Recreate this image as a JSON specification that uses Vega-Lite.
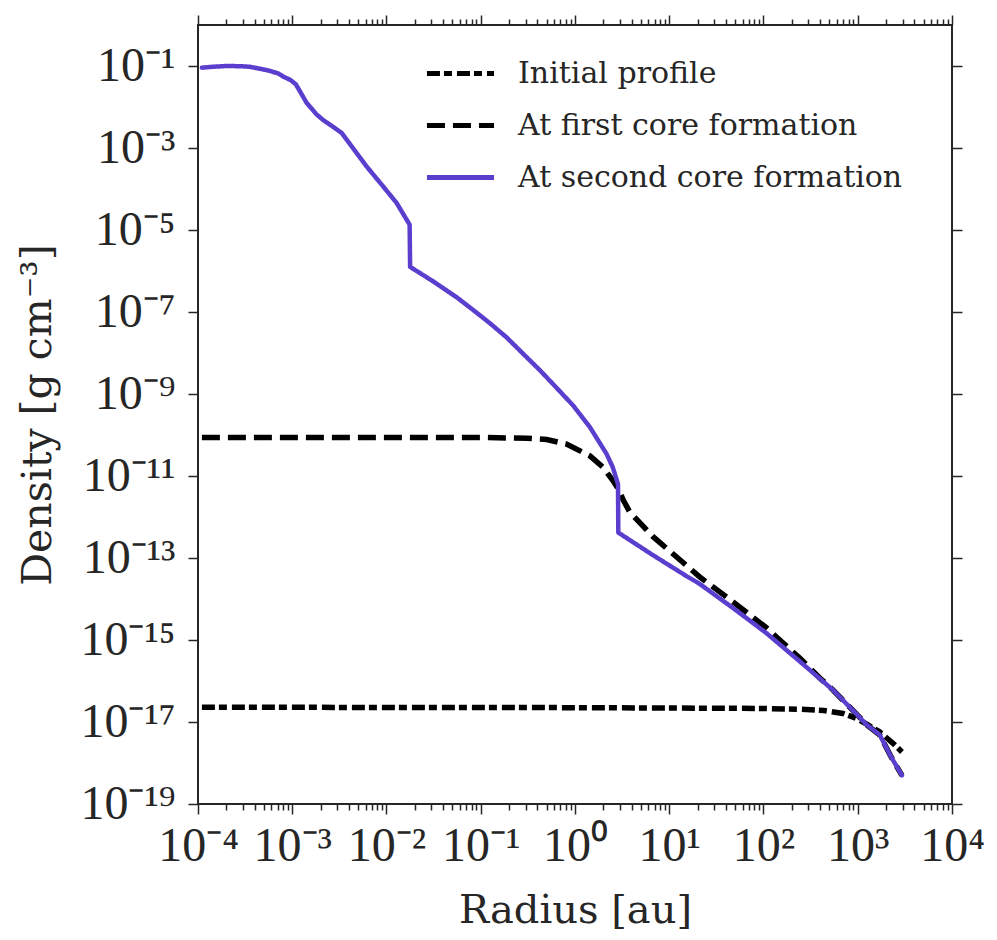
{
  "$schema": "https://vega.github.io/schema/vega-lite/v6.json",
  "width": 754,
  "height": 779,
  "autosize": {"type": "none"},
  "padding": {"left": 198, "top": 25, "right": 45, "bottom": 136},
  "background": "white",
  "config": {
    "view": {"stroke": "#262626", "strokeWidth": 2},
    "axis": {"domain": false, "grid": false, "tickColor": "#262626", "tickWidth": 1.5, "labelColor": "#262626", "titleColor": "#262626", "titleFontWeight": "normal", "labelOverlap": false, "labelFlush": false}
  },
  "data": {"values": [
    {"s": "Initial profile", "r": 1.1e-4, "d": 2.29e-17, "i": 0},
    {"s": "Initial profile", "r": 1, "d": 2.24e-17, "i": 1},
    {"s": "Initial profile", "r": 100, "d": 2.14e-17, "i": 2},
    {"s": "Initial profile", "r": 251, "d": 2.04e-17, "i": 3},
    {"s": "Initial profile", "r": 437, "d": 1.91e-17, "i": 4},
    {"s": "Initial profile", "r": 697, "d": 1.62e-17, "i": 5},
    {"s": "Initial profile", "r": 966, "d": 1.23e-17, "i": 6},
    {"s": "Initial profile", "r": 1259, "d": 8.71e-18, "i": 7},
    {"s": "Initial profile", "r": 1706, "d": 5.75e-18, "i": 8},
    {"s": "Initial profile", "r": 2366, "d": 3.02e-18, "i": 9},
    {"s": "Initial profile", "r": 2944, "d": 1.86e-18, "i": 10},

    {"s": "At first core formation", "r": 1.1e-4, "d": 8.71e-11, "i": 0},
    {"s": "At first core formation", "r": 0.1, "d": 8.71e-11, "i": 1},
    {"s": "At first core formation", "r": 0.316, "d": 8.32e-11, "i": 2},
    {"s": "At first core formation", "r": 0.501, "d": 7.76e-11, "i": 3},
    {"s": "At first core formation", "r": 0.813, "d": 6.03e-11, "i": 4},
    {"s": "At first core formation", "r": 1.44, "d": 3.09e-11, "i": 5},
    {"s": "At first core formation", "r": 1.99, "d": 1.62e-11, "i": 6},
    {"s": "At first core formation", "r": 2.54, "d": 7.59e-12, "i": 7},
    {"s": "At first core formation", "r": 2.95, "d": 4.37e-12, "i": 8},
    {"s": "At first core formation", "r": 3.24, "d": 2.63e-12, "i": 9},
    {"s": "At first core formation", "r": 3.81, "d": 1.32e-12, "i": 10},
    {"s": "At first core formation", "r": 5.01, "d": 6.76e-13, "i": 11},
    {"s": "At first core formation", "r": 6.73, "d": 3.31e-13, "i": 12},
    {"s": "At first core formation", "r": 10, "d": 1.51e-13, "i": 13},
    {"s": "At first core formation", "r": 15.2, "d": 6.61e-14, "i": 14},
    {"s": "At first core formation", "r": 21.0, "d": 3.47e-14, "i": 15},
    {"s": "At first core formation", "r": 47.5, "d": 8.51e-15, "i": 16},
    {"s": "At first core formation", "r": 107, "d": 2.0e-15, "i": 17},
    {"s": "At first core formation", "r": 242, "d": 3.63e-16, "i": 18},
    {"s": "At first core formation", "r": 398, "d": 1.17e-16, "i": 19},
    {"s": "At first core formation", "r": 546, "d": 6.03e-17, "i": 20},
    {"s": "At first core formation", "r": 1000, "d": 1.45e-17, "i": 21},
    {"s": "At first core formation", "r": 1233, "d": 8.71e-18, "i": 22},
    {"s": "At first core formation", "r": 1706, "d": 4.9e-18, "i": 23},
    {"s": "At first core formation", "r": 2270, "d": 1.38e-18, "i": 24},
    {"s": "At first core formation", "r": 2944, "d": 5.01e-19, "i": 25},

    {"s": "At second core formation", "r": 1.1e-4, "d": 9.12e-2, "i": 0},
    {"s": "At second core formation", "r": 1.41e-4, "d": 9.55e-2, "i": 1},
    {"s": "At second core formation", "r": 2.01e-4, "d": 1.0e-1, "i": 2},
    {"s": "At second core formation", "r": 2.82e-4, "d": 9.89e-2, "i": 3},
    {"s": "At second core formation", "r": 3.56e-4, "d": 9.55e-2, "i": 4},
    {"s": "At second core formation", "r": 5.36e-4, "d": 7.94e-2, "i": 5},
    {"s": "At second core formation", "r": 7.08e-4, "d": 6.61e-2, "i": 6},
    {"s": "At second core formation", "r": 8.04e-4, "d": 5.5e-2, "i": 7},
    {"s": "At second core formation", "r": 9.5e-4, "d": 4.6e-2, "i": 8},
    {"s": "At second core formation", "r": 1.09e-3, "d": 3.6e-2, "i": 9},
    {"s": "At second core formation", "r": 1.26e-3, "d": 2.04e-2, "i": 10},
    {"s": "At second core formation", "r": 1.42e-3, "d": 1.26e-2, "i": 11},
    {"s": "At second core formation", "r": 1.81e-3, "d": 6.61e-3, "i": 12},
    {"s": "At second core formation", "r": 2.13e-3, "d": 4.79e-3, "i": 13},
    {"s": "At second core formation", "r": 2.51e-3, "d": 3.72e-3, "i": 14},
    {"s": "At second core formation", "r": 3.34e-3, "d": 2.34e-3, "i": 15},
    {"s": "At second core formation", "r": 6.15e-3, "d": 3.55e-4, "i": 16},
    {"s": "At second core formation", "r": 9.23e-3, "d": 1.15e-4, "i": 17},
    {"s": "At second core formation", "r": 1.28e-2, "d": 4.57e-5, "i": 18},
    {"s": "At second core formation", "r": 1.76e-2, "d": 1.35e-5, "i": 19},
    {"s": "At second core formation", "r": 1.78e-2, "d": 1.26e-6, "i": 20},
    {"s": "At second core formation", "r": 3.16e-2, "d": 5.5e-7, "i": 21},
    {"s": "At second core formation", "r": 5.62e-2, "d": 2.24e-7, "i": 22},
    {"s": "At second core formation", "r": 8.3e-2, "d": 1.12e-7, "i": 23},
    {"s": "At second core formation", "r": 0.126, "d": 5.25e-8, "i": 24},
    {"s": "At second core formation", "r": 0.188, "d": 2.4e-8, "i": 25},
    {"s": "At second core formation", "r": 0.282, "d": 9.55e-9, "i": 26},
    {"s": "At second core formation", "r": 0.424, "d": 3.8e-9, "i": 27},
    {"s": "At second core formation", "r": 0.631, "d": 1.45e-9, "i": 28},
    {"s": "At second core formation", "r": 0.955, "d": 5.25e-10, "i": 29},
    {"s": "At second core formation", "r": 1.44, "d": 1.55e-10, "i": 30},
    {"s": "At second core formation", "r": 2.16, "d": 3.47e-11, "i": 31},
    {"s": "At second core formation", "r": 2.51, "d": 1.66e-11, "i": 32},
    {"s": "At second core formation", "r": 2.86, "d": 6.31e-12, "i": 33},
    {"s": "At second core formation", "r": 2.88, "d": 4.17e-13, "i": 34},
    {"s": "At second core formation", "r": 6.73, "d": 1.17e-13, "i": 35},
    {"s": "At second core formation", "r": 15.2, "d": 3.63e-14, "i": 36},
    {"s": "At second core formation", "r": 21.0, "d": 2.34e-14, "i": 37},
    {"s": "At second core formation", "r": 47.5, "d": 6.03e-15, "i": 38},
    {"s": "At second core formation", "r": 107, "d": 1.48e-15, "i": 39},
    {"s": "At second core formation", "r": 242, "d": 3.02e-16, "i": 40},
    {"s": "At second core formation", "r": 546, "d": 6.03e-17, "i": 41},
    {"s": "At second core formation", "r": 1000, "d": 1.45e-17, "i": 42},
    {"s": "At second core formation", "r": 1233, "d": 8.71e-18, "i": 43},
    {"s": "At second core formation", "r": 1706, "d": 4.9e-18, "i": 44},
    {"s": "At second core formation", "r": 2270, "d": 1.38e-18, "i": 45},
    {"s": "At second core formation", "r": 2944, "d": 5.01e-19, "i": 46}
  ]},
  "resolve": {"axis": {"x": "independent", "y": "independent"}},
  "layer": [
    {
      "transform": [{"filter": "datum.s === 'Initial profile'"}],
      "mark": {"type": "line", "strokeWidth": 5.5, "strokeCap": "butt"},
      "encoding": {
        "x": {"field": "r", "type": "quantitative", "scale": {"type": "log", "domain": [1e-4, 1e4], "nice": false},
          "axis": {"orient": "bottom", "values": [1e-4, 1e-3, 1e-2, 1e-1, 1, 10, 100, 1000, 10000], "tickSize": 10, "labelPadding": 8, "labelFont": "Liberation Serif, Times New Roman, Tinos, serif", "labelFontSize": 48,
            "labelExpr": "'10' + replace(replace(replace(replace(replace(replace(replace(replace(replace(replace(replace(toString(round(log(datum.value)/LN10)),'-','⁻'),regexp('0','g'),'⁰'),regexp('1','g'),'¹'),regexp('2','g'),'²'),regexp('3','g'),'³'),regexp('4','g'),'⁴'),regexp('5','g'),'⁵'),regexp('6','g'),'⁶'),regexp('7','g'),'⁷'),regexp('8','g'),'⁸'),regexp('9','g'),'⁹')",
            "title": "Radius [au]", "titleFont": "DejaVu Serif", "titleFontSize": 40, "titleY": 118, "titleBaseline": "alphabetic"}},
        "y": {"field": "d", "type": "quantitative", "scale": {"type": "log", "domain": [1e-19, 1], "nice": false},
          "axis": {"orient": "left", "values": [1e-1, 1e-3, 1e-5, 1e-7, 1e-9, 1e-11, 1e-13, 1e-15, 1e-17, 1e-19], "tickSize": 10, "labelPadding": 13, "labelFont": "Liberation Serif, Times New Roman, Tinos, serif", "labelFontSize": 48,
            "labelExpr": "'10' + replace(replace(replace(replace(replace(replace(replace(replace(replace(replace(replace(toString(round(log(datum.value)/LN10)),'-','⁻'),regexp('0','g'),'⁰'),regexp('1','g'),'¹'),regexp('2','g'),'²'),regexp('3','g'),'³'),regexp('4','g'),'⁴'),regexp('5','g'),'⁵'),regexp('6','g'),'⁶'),regexp('7','g'),'⁷'),regexp('8','g'),'⁸'),regexp('9','g'),'⁹')",
            "title": "Density [g cm⁻³]", "titleFont": "DejaVu Serif", "titleFontSize": 41, "titleX": -148, "titleBaseline": "alphabetic"}},
        "order": {"field": "i", "type": "quantitative"},
        "color": {"field": "s", "type": "nominal", "scale": {"domain": ["Initial profile", "At first core formation", "At second core formation"], "range": ["#000000", "#000000", "#5a3fcf"]},
          "legend": {"orient": "none", "legendX": 226, "legendY": 12, "title": null, "symbolType": "stroke", "symbolSize": 4500, "symbolStrokeWidth": 5, "labelFont": "DejaVu Serif", "labelFontSize": 30, "labelColor": "#262626", "labelOffset": 21, "rowPadding": 0, "labelLimit": 600}},
        "strokeDash": {"field": "s", "type": "nominal", "scale": {"domain": ["Initial profile", "At first core formation", "At second core formation"], "range": [[13, 4, 8, 5], [18, 8], [1, 0]]},
          "legend": {"orient": "none", "legendX": 226, "legendY": 12, "title": null, "symbolType": "stroke", "symbolSize": 4500, "symbolStrokeWidth": 5, "labelFont": "DejaVu Serif", "labelFontSize": 30, "labelColor": "#262626", "labelOffset": 21, "rowPadding": 0, "labelLimit": 600}}
      }
    },
    {
      "transform": [{"filter": "datum.s === 'At first core formation'"}],
      "mark": {"type": "line", "strokeWidth": 5.5, "strokeCap": "butt"},
      "encoding": {
        "x": {"field": "r", "type": "quantitative", "scale": {"type": "log", "domain": [1e-4, 1e4], "nice": false},
          "axis": {"orient": "top", "values": [1e-4, 1e-3, 1e-2, 1e-1, 1, 10, 100, 1000, 10000], "tickSize": 10, "labels": false, "title": null}},
        "y": {"field": "d", "type": "quantitative", "scale": {"type": "log", "domain": [1e-19, 1], "nice": false},
          "axis": {"orient": "right", "values": [1e-1, 1e-3, 1e-5, 1e-7, 1e-9, 1e-11, 1e-13, 1e-15, 1e-17, 1e-19], "tickSize": 10, "labels": false, "title": null}},
        "order": {"field": "i", "type": "quantitative"},
        "color": {"field": "s", "type": "nominal"},
        "strokeDash": {"field": "s", "type": "nominal"}
      }
    },
    {
      "transform": [{"filter": "datum.s === 'At second core formation'"}],
      "mark": {"type": "line", "strokeWidth": 4.5, "strokeCap": "round", "strokeJoin": "round"},
      "encoding": {
        "x": {"field": "r", "type": "quantitative", "scale": {"type": "log", "domain": [1e-4, 1e4], "nice": false},
          "axis": {"orient": "bottom", "values": [2e-4,3e-4,4e-4,5e-4,6e-4,7e-4,8e-4,9e-4,0.002,0.003,0.004,0.005,0.006,0.007,0.008,0.009,0.02,0.03,0.04,0.05,0.06,0.07,0.08,0.09,0.2,0.3,0.4,0.5,0.6,0.7,0.8,0.9,2,3,4,5,6,7,8,9,20,30,40,50,60,70,80,90,200,300,400,500,600,700,800,900,2000,3000,4000,5000,6000,7000,8000,9000], "tickSize": 6, "labels": false, "title": null}},
        "y": {"field": "d", "type": "quantitative", "scale": {"type": "log", "domain": [1e-19, 1], "nice": false}, "axis": null},
        "order": {"field": "i", "type": "quantitative"},
        "color": {"field": "s", "type": "nominal"},
        "strokeDash": {"field": "s", "type": "nominal"}
      }
    },
    {
      "transform": [{"filter": "datum.s === 'At second core formation'"}],
      "mark": {"type": "line", "opacity": 0},
      "encoding": {
        "x": {"field": "r", "type": "quantitative", "scale": {"type": "log", "domain": [1e-4, 1e4], "nice": false},
          "axis": {"orient": "top", "values": [2e-4,3e-4,4e-4,5e-4,6e-4,7e-4,8e-4,9e-4,0.002,0.003,0.004,0.005,0.006,0.007,0.008,0.009,0.02,0.03,0.04,0.05,0.06,0.07,0.08,0.09,0.2,0.3,0.4,0.5,0.6,0.7,0.8,0.9,2,3,4,5,6,7,8,9,20,30,40,50,60,70,80,90,200,300,400,500,600,700,800,900,2000,3000,4000,5000,6000,7000,8000,9000], "tickSize": 6, "labels": false, "title": null}},
        "y": {"field": "d", "type": "quantitative", "scale": {"type": "log", "domain": [1e-19, 1], "nice": false}, "axis": null},
        "order": {"field": "i", "type": "quantitative"}
      }
    }
  ]
}
